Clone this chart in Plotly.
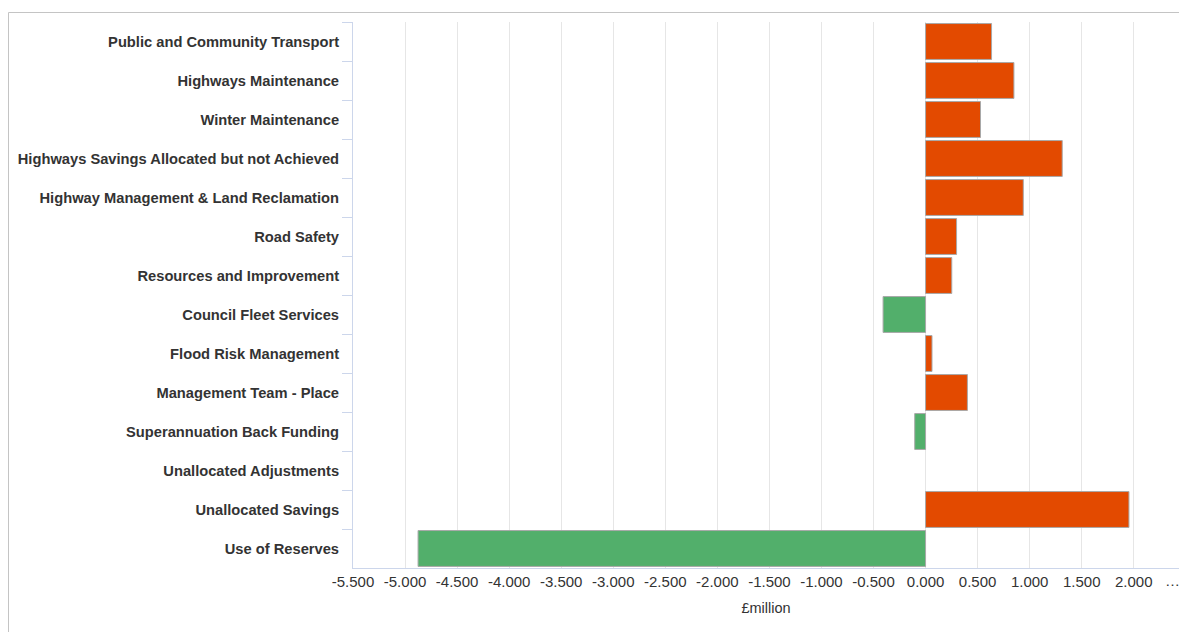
import plotly.graph_objects as go

categories = [
    "Public and Community Transport",
    "Highways Maintenance",
    "Winter Maintenance",
    "Highways Savings Allocated but not Achieved",
    "Highway Management & Land Reclamation",
    "Road Safety",
    "Resources and Improvement",
    "Council Fleet Services",
    "Flood Risk Management",
    "Management Team - Place",
    "Superannuation Back Funding",
    "Unallocated Adjustments",
    "Unallocated Savings",
    "Use of Reserves",
]
values = [0.634, 0.849, 0.528, 1.313, 0.939, 0.298, 0.252, -0.408,
          0.062, 0.402, -0.104, 0.0, 1.954, -4.875]

tick_vals = [-5.5, -5.0, -4.5, -4.0, -3.5, -3.0, -2.5, -2.0, -1.5, -1.0,
             -0.5, 0.0, 0.5, 1.0, 1.5, 2.0]
tick_text = ["-5.500", "-5.000", "-4.500", "-4.000", "-3.500", "-3.000",
             "-2.500", "-2.000", "-1.500", "-1.000", "-0.500", "0.000",
             "0.500", "1.000", "1.500", "2.000"]

POS = "#E34A00"
NEG = "#52AF6B"
colors = [POS if v >= 0 else NEG for v in values]
line_widths = [1 if v != 0 else 0 for v in values]

W, H = 1179, 632
ML, MR, MT, MB = 353, 0, 22, 64
pw = W - ML - MR
ph = H - MT - MB
px_per_unit = 104.1
x0 = -5.5
x1 = x0 + pw / px_per_unit

fig = go.Figure(go.Bar(
    y=categories, x=values, orientation="h",
    marker=dict(color=colors, line=dict(color="#a8a8a8", width=line_widths)),
    hoverinfo="x+y",
))

def px_x(p):
    return (p - ML) / pw

def px_y(p):
    return (H - MB - p) / ph

fig.update_layout(
    width=W, height=H,
    margin=dict(l=ML, r=MR, t=MT, b=MB),
    paper_bgcolor="white", plot_bgcolor="white",
    font=dict(family="Liberation Sans, Arial, sans-serif", color="#333333", size=14),
    bargap=0.08,
    showlegend=False,
    xaxis=dict(
        range=[x0, x1], tickvals=tick_vals, ticktext=tick_text,
        showgrid=True, gridcolor="#e6e6e6", gridwidth=1,
        zeroline=True, zerolinecolor="#e6e6e6", zerolinewidth=1,
        showline=True, linecolor="#ccd6eb", linewidth=1,
        ticks="", tickfont=dict(size=15, color="#333333"),
        title=dict(text="£million", font=dict(size=14.5, color="#333333"), standoff=13),
    ),
    yaxis=dict(
        autorange="reversed", type="category",
        showline=True, linecolor="#ccd6eb", linewidth=1,
        ticks="outside", ticklen=10, tickcolor="#ccd6eb", tickson="boundaries",
        ticklabelstandoff=10,
        showgrid=False,
        tickfont=dict(size=14.7, color="#333333", weight="bold"),
    ),
    shapes=[
        dict(type="line", xref="paper", yref="paper",
             x0=px_x(8.5), x1=px_x(1190), y0=px_y(12.5), y1=px_y(12.5),
             line=dict(color="#c4c4c4", width=1)),
        dict(type="line", xref="paper", yref="paper",
             x0=px_x(8.5), x1=px_x(8.5), y0=px_y(12.5), y1=px_y(650),
             line=dict(color="#c4c4c4", width=1)),
    ],
    annotations=[
        dict(text="…", xref="paper", yref="paper", x=px_x(1172), y=px_y(580),
             showarrow=False, xanchor="center", yanchor="middle",
             font=dict(size=15, color="#333333")),
    ],
)

fig.write_html("out.html")
